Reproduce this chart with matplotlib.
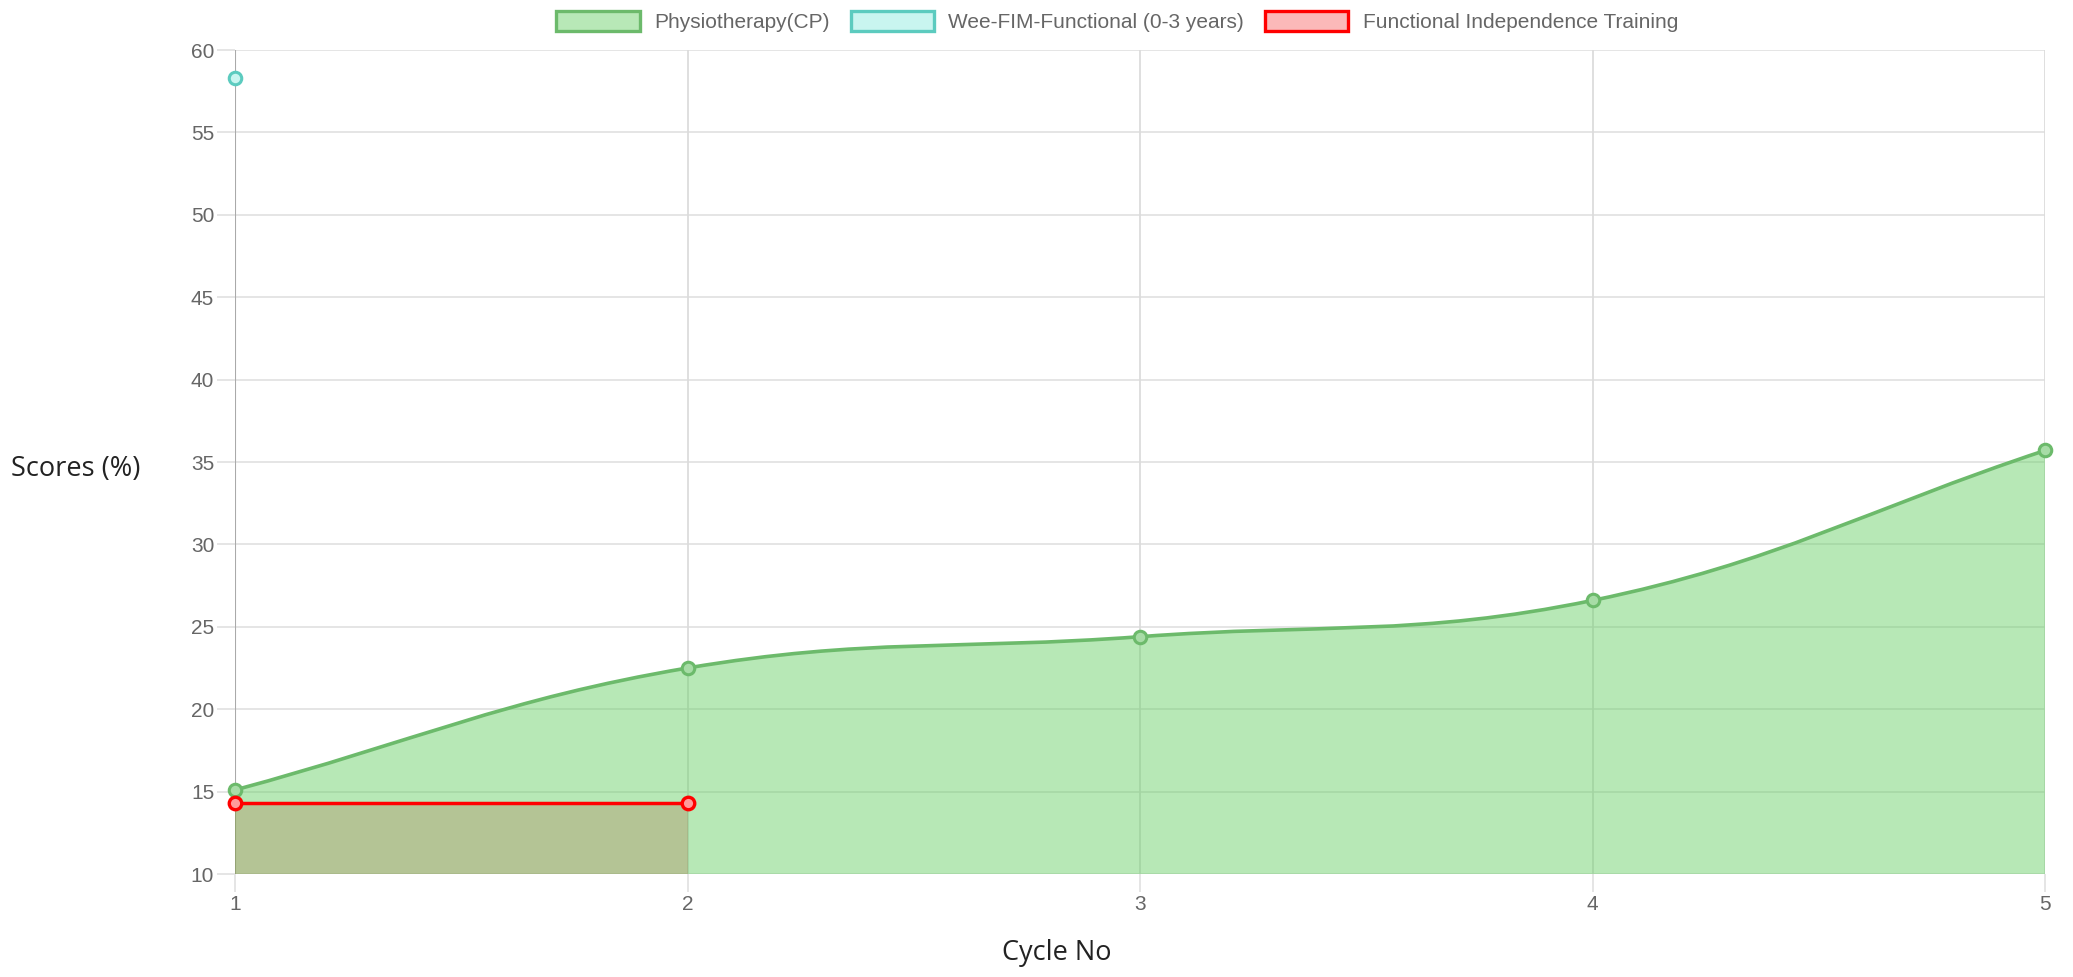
import numpy as np
import matplotlib
matplotlib.use('Agg')
import matplotlib.pyplot as plt
from matplotlib.path import Path
from matplotlib.patches import PathPatch, Patch

# data
cycles = [1, 2, 3, 4, 5]
physio = [15.1, 22.5, 24.4, 26.6, 35.7]
weefim_x = [1]
weefim = [58.3]
fit_x = [1, 2]
fit = [14.3, 14.3]

labels = ['Physiotherapy(CP)', 'Wee-FIM-Functional (0-3 years)', 'Functional Independence Training']
y_ticks = [10, 15, 20, 25, 30, 35, 40, 45, 50, 55, 60]

green_line = '#6cba6b'
green_fill = (97/255, 206/255, 95/255, 0.45)
teal_line = '#5ccbbf'
teal_fill = '#c9f5f0'
red_line = '#ff0000'
red_fill = (174/255, 113/255, 73/255, 0.3)
grid_c = '#e3e3e3'
tick_c = '#666666'

fig = plt.figure(figsize=(20.73, 9.77), dpi=100)
ax = fig.add_axes([235/2073, 103/977, 1810/2073, 824/977])
ax.set_xlim(1, 5)
ax.set_ylim(10, 60)


def spline_path(xs, ys, base, tension=0.4):
    # chart.js style bezier, computed in pixel space
    T = ax.transData
    pts = T.transform(np.column_stack([xs, ys]))
    n = len(pts)
    cps = []
    for i in range(n):
        p = pts[max(i - 1, 0)]
        c = pts[i]
        nx = pts[min(i + 1, n - 1)]
        d01 = np.hypot(*(c - p))
        d12 = np.hypot(*(nx - c))
        tot = d01 + d12
        s01 = d01 / tot if tot else 0
        s12 = d12 / tot if tot else 0
        prev_cp = c - tension * s01 * (nx - p)
        next_cp = c + tension * s12 * (nx - p)
        cps.append((prev_cp, next_cp))
    verts = [pts[0]]
    codes = [Path.MOVETO]
    for i in range(1, n):
        verts += [cps[i - 1][1], cps[i][0], pts[i]]
        codes += [Path.CURVE4] * 3
    inv = T.inverted()
    line_v = inv.transform(np.array(verts))
    line = Path(line_v, codes)
    fill_v = list(line_v) + [(xs[-1], base), (xs[0], base), (xs[0], ys[0])]
    fill_c = codes + [Path.LINETO, Path.LINETO, Path.CLOSEPOLY]
    return line, Path(fill_v, fill_c)


# grid
for y in y_ticks:
    ax.axhline(y, color=grid_c, lw=1.3, zorder=0)
for x in cycles:
    ax.axvline(x, color='#dcdcdc', lw=1.3, zorder=0)
ax.axvline(1, color='#aaaaaa', lw=1.5, zorder=0.5)

line, fill = spline_path(cycles, physio, 10)
ax.add_patch(PathPatch(fill, facecolor=green_fill, edgecolor='none', zorder=1))
ax.add_patch(PathPatch(line, facecolor='none', edgecolor=green_line, lw=2.6, zorder=2))
ax.plot(cycles, physio, 'o', ms=9, mfc='#a7dca6', mec=green_line, mew=2.2, zorder=3, clip_on=False)

ax.fill_between(fit_x, fit, 10, color=red_fill, lw=0, zorder=1.5)
ax.plot(fit_x, fit, '-', color=red_line, lw=2.5, zorder=4)
ax.plot(fit_x, fit, 'o', ms=9, mfc='#ff9a9a', mec=red_line, mew=2.4, zorder=5, clip_on=False)

ax.plot(weefim_x, weefim, 'o', ms=9, mfc=teal_fill, mec=teal_line, mew=2.2, zorder=5, clip_on=False)

for s in ax.spines.values():
    s.set_visible(False)
ax.set_xticks(cycles)
ax.set_yticks(y_ticks)
ax.tick_params(axis='both', colors=grid_c, labelcolor=tick_c, labelsize=15,
               length=13, width=1.3, pad=2)
for t in ax.get_xticklabels() + ax.get_yticklabels():
    t.set_family('Liberation Sans')

fig.text(0.0365, 0.52, 'Scores (%)', ha='center', va='center', fontsize=19.5,
         family='Open Sans', color='#222222')
fig.text(0.51, 0.025, 'Cycle No', ha='center', va='center', fontsize=19.5,
         family='Open Sans', color='#222222')

handles = [
    Patch(facecolor='#b8e8b7', edgecolor=green_line, lw=2.4),
    Patch(facecolor=teal_fill, edgecolor=teal_line, lw=2.4),
    Patch(facecolor='#fbb9b9', edgecolor=red_line, lw=2.4),
]
fig.legend(handles, labels, loc='upper center', bbox_to_anchor=(0.539, 1.008), ncol=3,
           frameon=False, handlelength=4.0, handleheight=1.1, handletextpad=0.7,
           columnspacing=1.0, prop={'family': 'Liberation Sans', 'size': 15},
           labelcolor=tick_c)

fig.savefig('out.png', dpi=100)
